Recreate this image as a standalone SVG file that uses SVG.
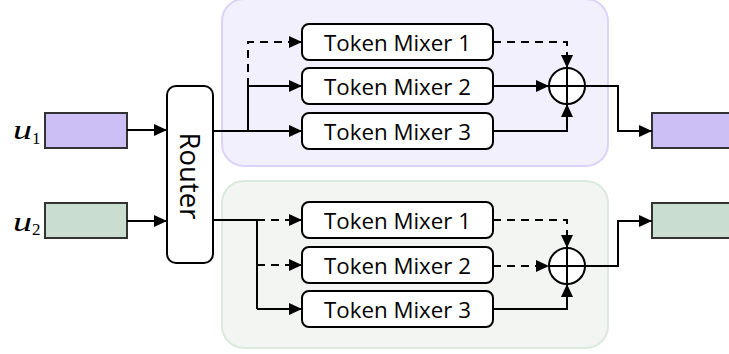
<svg xmlns="http://www.w3.org/2000/svg" width="729" height="354" viewBox="0 0 729 354">
<defs>
<marker id="ah" markerUnits="userSpaceOnUse" markerWidth="14" markerHeight="12" refX="13" refY="6" orient="auto">
<path d="M0,0 L13,6 L0,12 z" fill="#000"/>
</marker>
<style>
.box{fill:#fff;stroke:#000;stroke-width:2}
.lbl{font-family:"Open Sans","Noto Sans",sans-serif;font-size:22.3px;fill:#000;text-anchor:middle;dominant-baseline:central}
.ln{fill:none;stroke:#000;stroke-width:2}
.dash{stroke-dasharray:8 6}
.arr{marker-end:url(#ah)}
.math{font-family:"Liberation Serif",serif;font-style:italic;font-size:28px;fill:#000}
.sub{font-family:"Liberation Serif",serif;font-size:17px;fill:#000}
</style>
</defs>
<g id="panel-top"><rect x="222" y="-1" width="386" height="167" rx="22" fill="#f3f0fd" stroke="#dcd3f7" stroke-width="2"/></g>
<g id="panel-bottom"><rect x="222" y="181" width="386" height="167" rx="22" fill="#f2f5f2" stroke="#dce9de" stroke-width="2"/></g>

<g id="u1"><rect x="45" y="113" width="82" height="35" fill="#cbbff5" stroke="#333" stroke-width="2"/>
<text class="math" x="13" y="139" textLength="19" lengthAdjust="spacingAndGlyphs">u</text><text class="sub" x="32" y="144">1</text></g>
<g id="u2"><rect x="45" y="203" width="82" height="35" fill="#c9ddd0" stroke="#333" stroke-width="2"/>
<text class="math" x="13" y="231" textLength="19" lengthAdjust="spacingAndGlyphs">u</text><text class="sub" x="32" y="235">2</text></g>

<g id="router"><rect class="box" x="167" y="86" width="46" height="177" rx="9"/>
<text class="lbl" x="190" y="176" style="font-size:27.5px" transform="rotate(90 190 176)">Router</text></g>

<g id="t-tm1"><rect class="box" x="302" y="24" width="191" height="36" rx="7"/><text class="lbl" x="397.5" y="42">Token Mixer 1</text></g>
<g id="t-tm2"><rect class="box" x="302" y="68" width="191" height="36" rx="7"/><text class="lbl" x="397.5" y="86">Token Mixer 2</text></g>
<g id="t-tm3"><rect class="box" x="302" y="113" width="191" height="36" rx="7"/><text class="lbl" x="397.5" y="131">Token Mixer 3</text></g>
<g id="b-tm1"><rect class="box" x="302" y="202" width="191" height="36" rx="7"/><text class="lbl" x="397.5" y="220">Token Mixer 1</text></g>
<g id="b-tm2"><rect class="box" x="302" y="247" width="191" height="36" rx="7"/><text class="lbl" x="397.5" y="265">Token Mixer 2</text></g>
<g id="b-tm3"><rect class="box" x="302" y="291" width="191" height="36" rx="7"/><text class="lbl" x="397.5" y="309">Token Mixer 3</text></g>

<g id="t-sum"><circle cx="567" cy="86" r="18" fill="#fff" stroke="#000" stroke-width="2"/><path class="ln" d="M549,86 H585 M567,68 V104"/></g>
<g id="b-sum"><circle cx="567" cy="266" r="18" fill="#fff" stroke="#000" stroke-width="2"/><path class="ln" d="M549,266 H585 M567,248 V284"/></g>

<g id="out1"><rect x="652" y="113" width="90" height="35" fill="#cbbff5" stroke="#333" stroke-width="2"/></g>
<g id="out2"><rect x="652" y="203" width="90" height="35" fill="#c9ddd0" stroke="#333" stroke-width="2"/></g>

<g id="connectors">
<path class="ln arr" d="M127,130 H167"/>
<path class="ln arr" d="M127,221 H167"/>
<path class="ln" d="M213,131 H248 V86"/>
<path class="ln dash" d="M248,86 V42 H290"/>
<path class="ln arr" d="M288,42 H302"/>
<path class="ln arr" d="M248,86 H302"/>
<path class="ln arr" d="M248,131 H302"/>
<path class="ln dash arr" d="M493,42 H567 V68"/>
<path class="ln arr" d="M493,86 H549"/>
<path class="ln arr" d="M493,131 H567 V104"/>
<path class="ln arr" d="M585,86 H618 V131 H652"/>
<path class="ln" d="M213,220 H257 V309"/>
<path class="ln dash arr" d="M257,220 H302"/>
<path class="ln dash arr" d="M257,265 H302"/>
<path class="ln arr" d="M257,309 H302"/>
<path class="ln dash arr" d="M493,220 H567 V248"/>
<path class="ln dash arr" d="M493,266 H549"/>
<path class="ln arr" d="M493,309 H567 V284"/>
<path class="ln arr" d="M585,266 H618 V221 H652"/>
</g>
</svg>
